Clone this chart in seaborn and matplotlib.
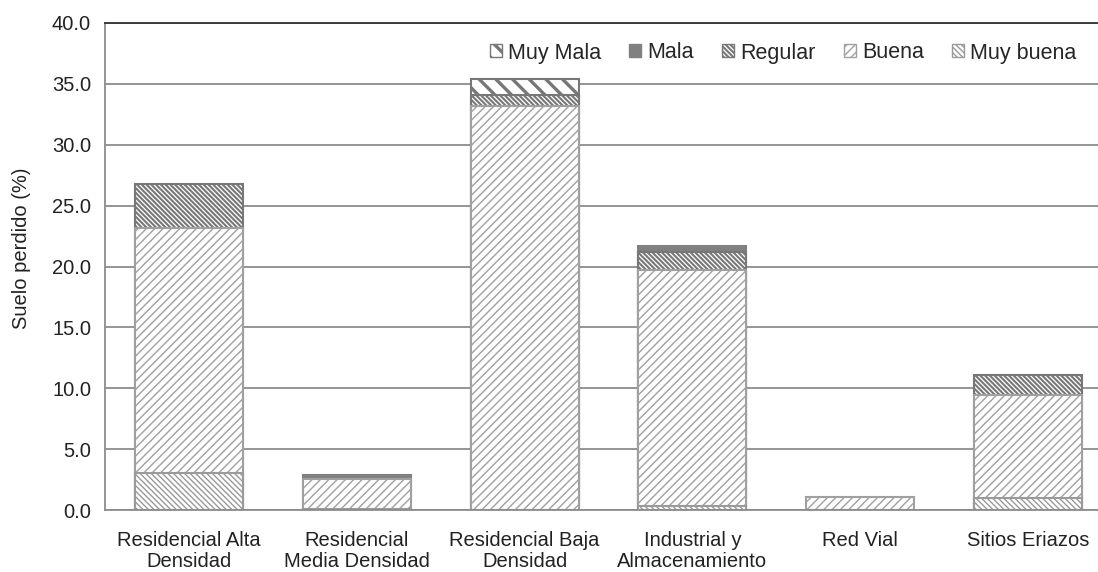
import matplotlib
matplotlib.use("Agg")
import matplotlib.pyplot as plt
from matplotlib.patches import Patch
import numpy as np
import pandas as pd
import seaborn as sns

categories = ["Residencial Alta\nDensidad", "Residencial\nMedia Densidad",
              "Residencial Baja\nDensidad", "Industrial y\nAlmacenamiento",
              "Red Vial", "Sitios Eriazos"]
series_names = ["Muy buena", "Buena", "Regular", "Mala", "Muy Mala"]
muy_buena = [3.0, 0.05, 0.0, 0.3, 0.0, 1.0]
buena = [20.2, 2.5, 33.2, 19.45, 1.05, 8.45]
regular = [3.6, 0.0, 0.85, 1.45, 0.0, 1.65]
mala = [0.0, 0.3, 0.0, 0.45, 0.0, 0.0]
muy_mala = [0.0, 0.0, 1.35, 0.0, 0.0, 0.0]
yticks = [0, 5, 10, 15, 20, 25, 30, 35, 40]

sns.set_style("white")
plt.rcParams['font.family'] = ['Liberation Sans', 'DejaVu Sans']

values = [muy_buena, buena, regular, mala, muy_mala]
styles = {
    "Muy buena": dict(hatch="\\" * 6, edge="#9a9a9a", face="white", lw=1.0),
    "Buena": dict(hatch="/" * 4, edge="#a0a0a0", face="white", lw=1.0),
    "Regular": dict(hatch="\\" * 7, edge="#777777", face="white", lw=1.5),
    "Mala": dict(hatch=None, edge="#808080", face="#808080", lw=1.0),
    "Muy Mala": dict(hatch="\\" * 2, edge="#777777", face="white", lw=2.4),
}

cum = np.cumsum(np.array(values), axis=0)

fig = plt.figure(figsize=(10.98, 5.72), dpi=100)
ax = fig.add_axes([105/1098, 62/572, 1007/1098, 487/572])

# draw from top layer down so lower layers overlay
for i in range(len(series_names) - 1, -1, -1):
    name = series_names[i]
    st = styles[name]
    df = pd.DataFrame({"cat": categories, "val": cum[i]})
    mask = np.array(values[i]) > 0
    df.loc[~mask, "val"] = np.nan
    before = len(ax.patches)
    sns.barplot(data=df, x="cat", y="val", order=categories, color=st["face"],
                saturation=1, width=0.644, edgecolor=st["edge"], linewidth=1.5,
                hatch=st["hatch"], ax=ax, errorbar=None)
    for p in ax.patches[before:]:
        p.set_facecolor(st["face"])
        p.set_edgecolor(st["edge"])
        if hasattr(p, "set_hatch_linewidth"):
            p.set_hatch_linewidth(st["lw"])

FS = 14.5
ax.set_ylim(0, 40)
ax.set_xlim(-0.5, 5.5)
ax.set_yticks(yticks)
ax.set_yticklabels([f"{v:.1f}" for v in yticks], fontsize=FS, color="#222222")
ax.tick_params(axis="x", labelsize=FS, colors="#222222", length=0, pad=15)
for t in ax.get_xticklabels():
    t.set_linespacing(1.15)
ax.tick_params(axis="y", length=0, pad=10)
ax.set_xlabel("")
ax.set_ylabel("Suelo perdido (%)", fontsize=14.5, color="#222222")
ax.yaxis.set_label_coords(-0.0735, 0.538)
ax.yaxis.grid(True, color="#8c8c8c", linewidth=1.3)
ax.set_axisbelow(True)
for s in ["left", "bottom", "right"]:
    ax.spines[s].set_color("#8c8c8c")
    ax.spines[s].set_linewidth(1.3)
ax.spines["top"].set_color("#333333")
ax.spines["top"].set_linewidth(1.3)

handles = []
for name in series_names[::-1]:
    st = styles[name]
    h = Patch(facecolor=st["face"], edgecolor=st["edge"], hatch=st["hatch"],
              linewidth=1.0, label=name)
    handles.append(h)
leg = fig.legend(handles=handles, loc="center left",
                 bbox_to_anchor=(490/1098, 1 - 53/572), ncol=5, frameon=False,
                 fontsize=15.5, handlelength=0.55, handleheight=0.55,
                 handletextpad=0.3, columnspacing=1.3, borderaxespad=0,
                 borderpad=0)
for h, name in zip(leg.legend_handles, series_names[::-1]):
    if hasattr(h, "set_hatch_linewidth"):
        h.set_hatch_linewidth(styles[name]["lw"])

fig.savefig("out.png", dpi=100)
